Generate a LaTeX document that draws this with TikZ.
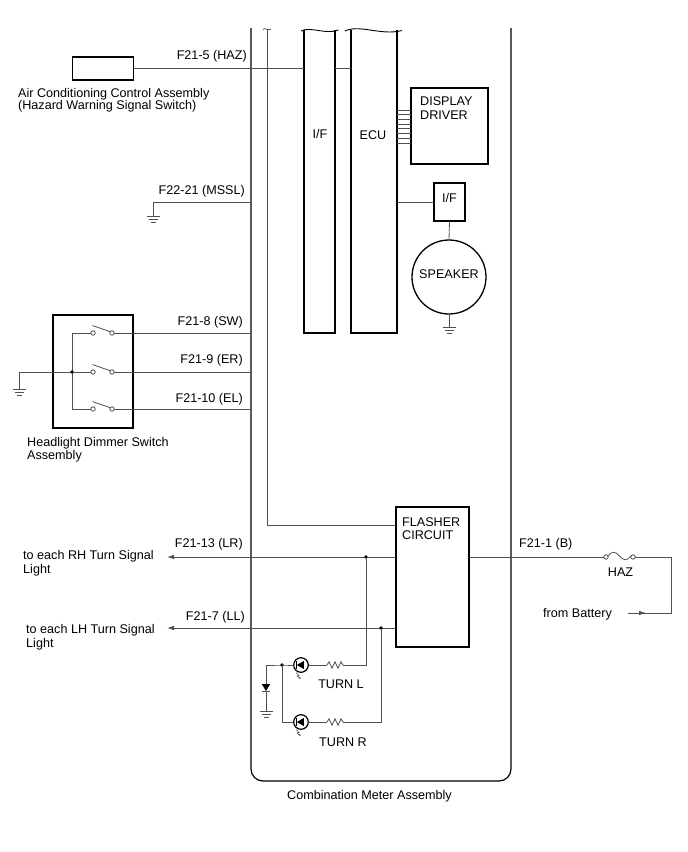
\documentclass[tikz,border=0pt]{standalone}
\usepackage{fontspec}
\setmainfont{Liberation Sans}
\usetikzlibrary{arrows.meta}
\definecolor{wirec}{RGB}{80,80,80}
\begin{document}
\begin{tikzpicture}[x=1pt,y=-1pt,
  wire/.style={draw=wirec, line width=0.8pt},
  box/.style={draw=black, line width=1.3pt},
  blk/.style={inner sep=0pt, outer sep=0pt},
  lbl/.style={inner sep=0pt, font=\fontsize{12.6}{14}\selectfont},
  jdot/.style={fill=black, circle, inner sep=0pt, minimum size=3.6pt},
  arr/.style={-{Latex[length=7pt,width=4.5pt]}},
  earth/.pic={\draw[wire] (-6.5,0) -- (6.5,0) (-4.5,3.3) -- (4.5,3.3) (-2.5,6.6) -- (2.5,6.6);},
  resist/.pic={\draw[wire] (0,0) -- (2,-3.2) -- (5,3.2) -- (8,-3.2) -- (11,3.2) -- (14,-3.2) -- (16,0);},
  ledlamp/.pic={
    \draw[draw=black, line width=1.2pt] (0,0) circle[radius=7.3];
    \fill (-4.2,0) -- (2.8,-4) -- (2.8,4) -- cycle;
    \draw[line width=1pt] (-4.2,-4) -- (-4.2,4);
    \draw[wire, line width=0.6pt, -{Latex[length=2.2pt,width=2pt]}] (-5,7.5) -- (-2,10.5) -- (-4,11) -- (0,14);}
  ]
\useasboundingbox (0,0) rectangle (688,852);
\fill[white] (0,0) rectangle (688,852);

% ---------- Combination meter outline ----------
\coordinate (mTL) at (251,28);
\coordinate (mTR) at (511,28);
\draw[box, line width=1.2pt, rounded corners=12pt] (mTL) -- (251,781) -- (511,781) -- (mTR);
\node[lbl, anchor=base] (tcm) at (369.5,799) {Combination Meter Assembly};

% ---------- I/F and ECU columns ----------
\node[blk, minimum width=31pt, minimum height=303pt] (iff) at (319.5,181.5) {};
\node[blk, minimum width=46pt, minimum height=303pt] (ecu) at (374,181.5) {};
\draw[box] (iff.north west) -- (iff.south west) -- (iff.south east) -- (iff.north east);
\draw[box] (ecu.north west) -- (ecu.south west) -- (ecu.south east) -- (ecu.north east);
\draw[draw=black, line width=0.9pt] (301,31) .. controls (311,26) and (325,35) .. (338.5,30);
\draw[draw=black, line width=0.9pt] (345,31) .. controls (360,24) and (381,36) .. (402,30.5);
\node[lbl, anchor=base] (tif) at (320,138) {I/F};
\node[lbl, anchor=base] (tecu) at (373,139) {ECU};

% inner line to flasher
\coordinate (inT) at (267,29);
\draw[wire] (263,29.5) .. controls (265,27) and (268,31.5) .. (271,29);

% ---------- Display driver ----------
\node[box, blk, minimum width=77pt, minimum height=76pt] (ddrv) at (449.5,126) {};
\node[lbl, anchor=base west] (tdd1) at (420,105) {DISPLAY};
\node[lbl, anchor=base west] (tdd2) at (420,119) {DRIVER};
\foreach \k in {0,...,7} {
  \draw[wire, line width=0.7pt] (ecu.east |- 0,110+4.7*\k) -- (ddrv.west |- 0,110+4.7*\k);
}

% ---------- small I/F and speaker ----------
\node[box, blk, minimum width=31pt, minimum height=38pt] (sif) at (449.5,202) {};
\node[lbl, anchor=base] (tsif) at (449.5,202) {I/F};
\draw[wire] (ecu.east |- sif.west) -- (sif.west);
\node[box, blk, circle, minimum size=74pt] (spk) at (449,277) {};
\node[lbl, anchor=base] (tspk) at (449,278) {SPEAKER};
\draw[wire] (sif.south) -- (spk.north);
\coordinate (gspk) at (449,327);
\draw[wire] (spk.south) -- (gspk);
\pic at (gspk) {earth};

% ---------- Air conditioning control assembly ----------
\node[box, blk, minimum width=61pt, minimum height=23pt] (ac) at (103,68.5) {};
\draw[wire] (ac.east) -- (ac.east -| iff.west);
\draw[wire] (ac.east -| iff.east) -- (ac.east -| ecu.west);
\node[lbl, anchor=base east] (t215) at (247,59) {F21-5 (HAZ)};
\node[lbl, anchor=base west] (tac1) at (18,97) {Air Conditioning Control Assembly};
\node[lbl, anchor=base west] (tac2) at (18,109.5) {(Hazard Warning Signal Switch)};

% ---------- MSSL ground ----------
\coordinate (mssl) at (153,202);
\coordinate (gmssl) at (153,216);
\draw[wire] (251,202) -- (mssl) -- (gmssl);
\pic at (gmssl) {earth};
\node[lbl, anchor=base east] (t2221) at (245,194) {F22-21 (MSSL)};

% ---------- Headlight dimmer switch ----------
\node[box, blk, minimum width=80pt, minimum height=113pt] (hsw) at (93,371.5) {};
\foreach \yy in {333,372,409} {
  \draw[wire] (72,\yy) -- (90.8,\yy);
  \draw[wire] (93,\yy) circle[radius=2.2];
  \draw[wire] (112,\yy) circle[radius=2.2];
  \draw[wire] (92.6,\yy-7.4) -- (110.3,\yy-1.3);
  \draw[wire] (114.2,\yy) -- (251,\yy);
}
\coordinate (hbT) at (72,333);
\coordinate (hbB) at (72,409);
\coordinate (hbM) at (72,372);
\coordinate (hgc) at (19,372);
\coordinate (hg) at (19,389);
\draw[wire] (hbT) -- (hbB);
\draw[wire] (hbM) -- (hgc) -- (hg);
\pic at (hg) {earth};
\node[jdot] (dhsw) at (hbM) {};
\node[lbl, anchor=base east] (t218) at (243,325) {F21-8 (SW)};
\node[lbl, anchor=base east] (t219) at (243,363) {F21-9 (ER)};
\node[lbl, anchor=base east] (t2110) at (243,402) {F21-10 (EL)};
\node[lbl, anchor=base west] (thd1) at (27,446) {Headlight Dimmer Switch};
\node[lbl, anchor=base west] (thd2) at (27,459) {Assembly};

% ---------- Flasher ----------
\node[box, blk, minimum width=73pt, minimum height=140pt] (fl) at (432.5,577) {};
\node[lbl, anchor=base west] (tfl1) at (402,526) {FLASHER};
\node[lbl, anchor=base west] (tfl2) at (402,539) {CIRCUIT};
\draw[wire] (inT) -- (267,525) -- (fl.west |- 0,525);

% LR / LL outputs
\coordinate (oLR) at (167,557);
\coordinate (oLL) at (167,628);
\draw[wire, arr] (fl.west |- oLR) -- (oLR);
\draw[wire, arr] (fl.west |- oLL) -- (oLL);
\node[jdot] (dLR) at (366,557) {};
\node[jdot] (dLL) at (381,628) {};
\node[lbl, anchor=base east] (t2113) at (243,547) {F21-13 (LR)};
\node[lbl, anchor=base east] (t217) at (245,620) {F21-7 (LL)};
\node[lbl, anchor=base west] (trh1) at (23,559) {to each RH Turn Signal};
\node[lbl, anchor=base west] (trh2) at (23,573) {Light};
\node[lbl, anchor=base west] (tlh1) at (26,633) {to each LH Turn Signal};
\node[lbl, anchor=base west] (tlh2) at (26,647) {Light};

% battery feed with fuse
\coordinate (fuL) at (606,557);
\coordinate (fuR) at (633,557);
\coordinate (bc) at (671,557);
\coordinate (bat) at (628,613);
\draw[wire] (fl.east |- fuL) -- (603.8,557);
\draw[wire] (fuL) circle[radius=2.2];
\draw[wire] (fuR) circle[radius=2.2];
\draw[wire] (608.2,556) .. controls (612,551) and (615,551) .. (619.5,556) .. controls (624,561) and (627,561) .. (630.8,556);
\draw[wire] (635.2,557) -- (bc) -- (671,613) -- (bat);
\draw[wire, -{Latex[length=7pt,width=4.5pt]}] (bat) -- (646,613);
\node[lbl, anchor=base west] (t211) at (519,547) {F21-1 (B)};
\node[lbl, anchor=base] (thaz) at (620.5,576) {HAZ};
\node[lbl, anchor=base west] (tbat) at (543,617) {from Battery};

% ---------- Turn indicator lamps ----------
\coordinate (lL) at (301,665);
\coordinate (lR) at (301,722);
\coordinate (jlamp) at (282,665);
\draw[wire] (dLR) -- (366,665) -- (343,665);
\pic at (327,665) {resist};
\draw[wire] (327,665) -- (308.3,665);
\pic at (lL) {ledlamp};
\draw[wire] (293.7,665) -- (jlamp) -- (266,665) -- (266,684);
\fill (261.8,684) -- (270.2,684) -- (266,691) -- cycle;
\draw[wire] (261.8,691) -- (270.2,691);
\draw[wire] (266,691) -- (266,711);
\pic at (266,711) {earth};
\node[jdot] (dlamp) at (jlamp) {};
\draw[wire] (jlamp) -- (282,722) -- (293.7,722);
\pic at (lR) {ledlamp};
\draw[wire] (308.3,722) -- (327,722);
\pic at (327,722) {resist};
\draw[wire] (343,722) -- (381,722) -- (dLL);
\node[lbl, anchor=base] (ttl) at (341,688) {TURN L};
\node[lbl, anchor=base] (ttr) at (343,746) {TURN R};
\end{tikzpicture}
\end{document}
